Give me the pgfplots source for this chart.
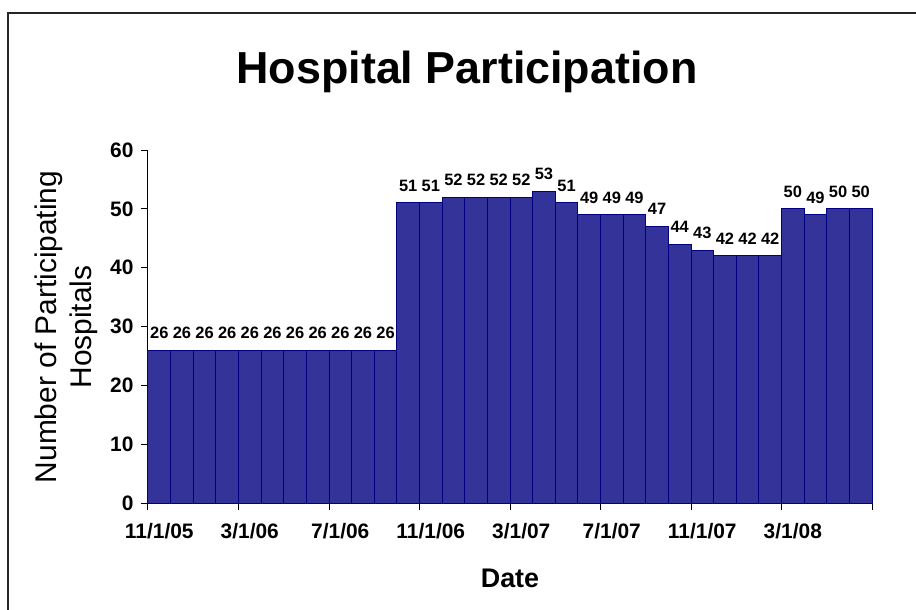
\documentclass[border=0pt]{standalone}
\usepackage{pgfplots}
\pgfplotsset{compat=1.18}
\usepackage{fontspec}
\setmainfont{Liberation Sans}
\definecolor{barfill}{RGB}{51,51,153}
\definecolor{baredge}{RGB}{0,0,128}
\pgfplotstableread{
x y
0 26
1 26
2 26
3 26
4 26
5 26
6 26
7 26
8 26
9 26
10 26
11 51
12 51
13 52
14 52
15 52
16 52
17 53
18 51
19 49
20 49
21 49
22 47
23 44
24 43
25 42
26 42
27 42
28 50
29 49
30 50
31 50
}\datatable
\begin{document}
\begin{tikzpicture}
\useasboundingbox (-148bp,-107bp) rectangle (768bp,503bp);
\draw[black!85, line width=2bp] (-140bp,-110bp) -- (-140bp,490bp) -- (770bp,490bp);
\begin{axis}[
  scale only axis,
  width=724bp, height=353bp,
  at={(0,0)}, anchor=south west,
  xmin=-0.5, xmax=31.5,
  ymin=0, ymax=60,
  axis lines*=left,
  axis line style={black, line width=1bp},
  tick align=outside,
  major tick length=7bp,
  tick style={black, line width=1bp},
  xtick={-0.5,3.5,...,31.5},
  xticklabels={11/1/05,3/1/06,7/1/06,11/1/06,3/1/07,7/1/07,11/1/07,3/1/08,},
  xticklabel style={xshift=11.3bp, yshift=-10bp},
  yticklabel style={xshift=-4bp},
  ytick={0,10,...,60},
  /pgf/number format/assume math mode=true,
  ticklabel style={font=\fontsize{21}{25}\selectfont\bfseries},
  bar width=1,
  nodes near coords,
  every node near coord/.append style={font=\fontsize{16.5}{19}\selectfont\bfseries, inner sep=0pt, yshift=11bp, black},
  clip=false,
]
\addplot[ybar, fill=barfill, draw=baredge, line width=1bp] table[x=x,y=y] {\datatable};
\end{axis}
\node[anchor=base, font=\fontsize{45}{54}\selectfont\bfseries] at (319bp,419bp) {Hospital Participation};
\node[anchor=base, rotate=90, font=\fontsize{30}{36}\selectfont] at (-91bp,176bp) {Number of Participating};
\node[anchor=base, rotate=90, font=\fontsize{30}{36}\selectfont] at (-56bp,176bp) {Hospitals};
\node[anchor=base, font=\fontsize{27}{32}\selectfont\bfseries] at (362bp,-84bp) {Date};
\end{tikzpicture}
\end{document}
